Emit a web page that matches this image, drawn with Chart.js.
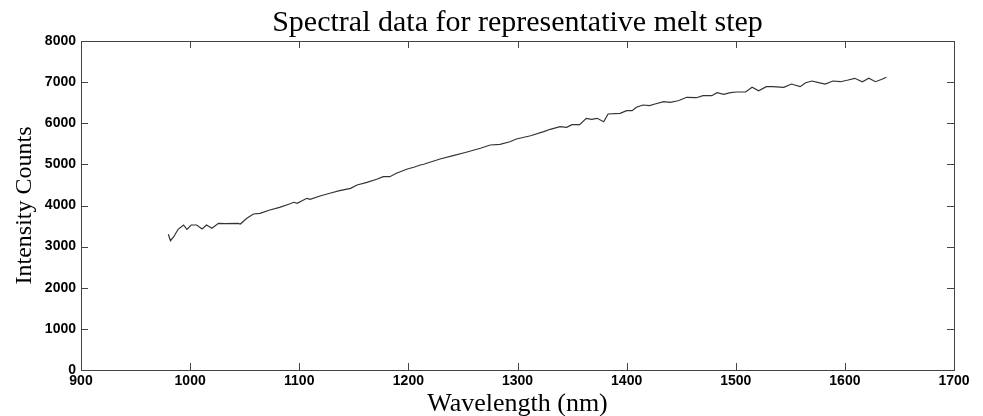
<!DOCTYPE html>
<html>
<head>
<meta charset="utf-8">
<script src="https://cdn.jsdelivr.net/npm/chart.js@4"></script>
<style>
  html, body { margin: 0; padding: 0; background: #fff; }
  #wrap { width: 983px; height: 416px; }
</style>
</head>
<body>
<div id="wrap"><canvas id="myChart" width="983" height="416"></canvas></div>
<script>
// spectral data
const wavelengths = [
    980, 982, 985, 989, 994, 997, 1001, 1006, 1011, 1015, 1020, 1026, 1032, 1044, 1046,
    1052, 1058, 1064, 1073, 1082, 1091, 1095, 1098, 1107, 1110, 1119, 1128, 1137, 1147,
    1153, 1162, 1171, 1177, 1183, 1189, 1199, 1205, 1211, 1214, 1229, 1241, 1253, 1266,
    1275, 1284, 1293, 1299, 1312, 1324, 1330, 1339, 1345, 1350, 1357, 1363, 1368, 1373,
    1379, 1383, 1394, 1400, 1405, 1409, 1415, 1421, 1426, 1434, 1440, 1447, 1449, 1455,
    1464, 1470, 1478, 1483, 1489, 1495, 1501, 1509, 1515, 1521, 1528, 1534, 1544, 1551,
    1559, 1564, 1570, 1576, 1582, 1589, 1596, 1603, 1609, 1616, 1622, 1628, 1634, 1638
];
const intensity = [
    3300, 3144, 3241, 3421, 3526, 3421, 3526, 3526, 3429, 3526, 3446, 3567, 3557, 3567, 3550,
    3689, 3793, 3810, 3891, 3956, 4036, 4078, 4053, 4175, 4151, 4231, 4297, 4360, 4418,
    4498, 4564, 4637, 4700, 4700, 4783, 4888, 4929, 4985, 5002, 5131, 5211, 5294, 5391,
    5471, 5488, 5551, 5617, 5697, 5795, 5853, 5916, 5902, 5965, 5965, 6120, 6096, 6120,
    6038, 6225, 6242, 6305, 6305, 6388, 6444, 6427, 6468, 6524, 6509, 6548, 6565, 6631,
    6621, 6670, 6670, 6743, 6704, 6743, 6760, 6760, 6874, 6791, 6889, 6889, 6874, 6954,
    6889, 6986, 7027, 6986, 6954, 7027, 7010, 7052, 7093, 7010, 7093, 7010, 7069, 7117
];
const xTicks = [900, 1000, 1100, 1200, 1300, 1400, 1500, 1600, 1700];
const yTicks = [0, 1000, 2000, 3000, 4000, 5000, 6000, 7000, 8000];
const chartTitle = 'Spectral data for representative melt step';

const points = wavelengths.map(function (w, i) {
    return { x: w, y: intensity[i] };
});

const serif = '"Liberation Serif", "Times New Roman", serif';
const tickFont = { family: '"Liberation Sans", Arial, sans-serif', size: 14, weight: 'bold' };

// matlab-style box with inward ticks, title centred over the axes
const boxPlugin = {
    id: 'box',
    afterDraw: function (chart) {
        const c = chart.ctx;
        const a = chart.chartArea;
        const xs = chart.scales.x, ys = chart.scales.y;
        const len = 7;
        c.save();
        c.strokeStyle = '#444';
        c.lineWidth = 1;
        c.strokeRect(a.left + 0.5, a.top + 0.5, a.right - a.left, a.bottom - a.top);
        c.beginPath();
        xTicks.forEach(function (v) {
            const px = Math.round(xs.getPixelForValue(v)) + 0.5;
            c.moveTo(px, a.bottom); c.lineTo(px, a.bottom - len);
            c.moveTo(px, a.top); c.lineTo(px, a.top + len);
        });
        yTicks.forEach(function (v) {
            const py = Math.round(ys.getPixelForValue(v)) + 0.5;
            c.moveTo(a.left, py); c.lineTo(a.left + len, py);
            c.moveTo(a.right, py); c.lineTo(a.right - len, py);
        });
        c.stroke();

        c.fillStyle = '#000';
        c.font = '30px ' + serif;
        c.textAlign = 'center';
        c.textBaseline = 'alphabetic';
        c.fillText(chartTitle, (a.left + a.right) / 2, 31);
        c.restore();
    }
};

const ctx = document.getElementById('myChart').getContext('2d');

new Chart(ctx, {
    type: 'line',
    data: {
        datasets: [{
            data: points,
            borderColor: '#333',
            borderWidth: 1.2,
            pointRadius: 0,
            tension: 0,
            fill: false
        }]
    },
    options: {
        responsive: false,
        animation: false,
        layout: { padding: { left: 0, right: 29, top: 41, bottom: 0 } },
        plugins: {
            legend: { display: false },
            tooltip: { enabled: false },
            title: { display: false }
        },
        scales: {
            x: {
                type: 'linear',
                min: 900,
                max: 1700,
                afterBuildTicks: function (s) { s.ticks = xTicks.map(function (v) { return { value: v }; }); },
                afterFit: function (s) { s.height = 46; },
                grid: { display: false, drawTicks: false },
                border: { display: false },
                ticks: {
                    padding: 3,
                    color: '#000',
                    maxRotation: 0,
                    font: tickFont,
                    callback: function (v) { return String(v); }
                },
                title: {
                    display: true,
                    text: 'Wavelength (nm)',
                    color: '#000',
                    font: { family: serif, size: 26, lineHeight: 1.0 },
                    padding: { top: 0, bottom: -1 }
                }
            },
            y: {
                min: 0,
                max: 8000,
                afterBuildTicks: function (s) { s.ticks = yTicks.map(function (v) { return { value: v }; }); },
                afterFit: function (s) { s.width = 81; },
                grid: { display: false, drawTicks: false },
                border: { display: false },
                ticks: {
                    padding: 5,
                    color: '#000',
                    font: tickFont,
                    callback: function (v) { return String(v); }
                },
                title: {
                    display: true,
                    text: 'Intensity Counts',
                    color: '#000',
                    font: { family: serif, size: 24, lineHeight: 1.2 },
                    padding: { top: 10, bottom: 0 }
                }
            }
        }
    },
    plugins: [boxPlugin]
});
</script>
</body>
</html>
